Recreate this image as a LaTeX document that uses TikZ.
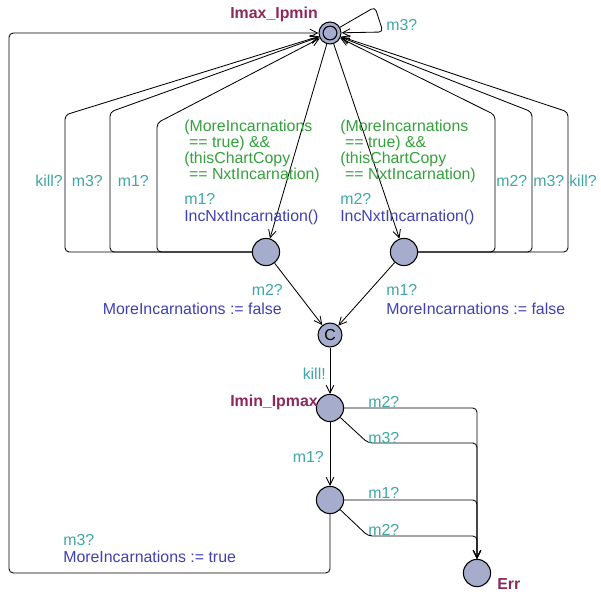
\documentclass[tikz,border=0pt]{standalone}
\usepackage{fontspec}
\setmainfont{Liberation Sans}
\usetikzlibrary{arrows.meta}

\definecolor{locfill}{RGB}{165,172,204}
\definecolor{synccol}{RGB}{64,166,166}
\definecolor{guardcol}{RGB}{52,160,60}
\definecolor{assigncol}{RGB}{64,64,176}
\definecolor{namecol}{RGB}{140,40,92}

\begin{document}
\begin{tikzpicture}[x=0.025cm, y=-0.025cm,
  font=\fontsize{11.3}{11.4}\selectfont,
  loc/.style={circle, draw, fill=locfill, minimum size=0.68cm, inner sep=0pt, line width=0.75pt},
  edge/.style={-{Straight Barb[length=5.5pt,width=5.5pt]}, rounded corners=3pt, line width=0.6pt},
  sync/.style={text=synccol, inner sep=0pt},
  guard/.style={text=guardcol, align=left, inner sep=0pt, anchor=north west},
  assign/.style={text=assigncol, inner sep=0pt},
  locname/.style={text=namecol, font=\fontsize{11.3}{11.4}\selectfont\bfseries, inner sep=0pt}]

\useasboundingbox (0,0) rectangle (601,592);

% Locations
\node[loc, minimum size=0.55cm] (maxmin) at (330,33) {};
\draw[line width=0.75pt] (maxmin.center) circle (4.9pt);
\node[loc] (lmid) at (266,252) {};
\node[loc] (rmid) at (404,252) {};
\node[loc, minimum size=0.6cm] (comm) at (330,335) {C};
\node[loc] (minmax) at (330,408) {};
\node[loc] (low) at (330,500) {};
\node[loc] (err) at (477,573) {};

% Location names
\node[locname, anchor=east] at (318,14) {Imax\_Ipmin};
\node[locname, anchor=east] at (318,402) {Imin\_Ipmax};
\node[locname, anchor=west] at (497,584) {Err};

% Self loop on the initial location
\draw[edge] (maxmin) -- (375,7) -- (383,32) -- (maxmin);
\node[sync, anchor=west] at (386,25) {m3?};

% Loops back from the two middle locations
\foreach \x/\y/\lx/\lab in {65/115/63/kill?, 110/112/103/m3?, 157/123/149/m1?} {
  \draw[edge] (lmid) -- (\x,252) -- (\x,\y) -- (maxmin);
  \node[sync, anchor=east] at (\lx,181) {\lab};
}
\foreach \x/\y/\lab in {495/115/m2?, 532/112/m3?, 568/112/kill?} {
  \draw[edge] (rmid) -- (\x,252) -- (\x,\y) -- (maxmin);
  \node[sync, anchor=west] at (\x+1,181) {\lab};
}

% Incarnation edges
\draw[edge] (maxmin) -- (lmid);
\draw[edge] (maxmin) -- (rmid);
\foreach \x/\m in {184/m1?, 340/m2?} {
  \node[guard] at (\x,120) {(MoreIncarnations\\\hspace*{.3em}== true) \&\&\\(thisChartCopy\\\hspace*{.3em}== NxtIncarnation)};
  \node[sync, anchor=west] at (\x,199) {\m};
  \node[assign, anchor=west] at (\x,217) {IncNxtIncarnation()};
}

% Into the committed location
\draw[edge] (lmid) -- (comm);
\draw[edge] (rmid) -- (comm);
\node[sync, anchor=east] at (283,290) {m2?};
\node[assign, anchor=east] at (282,309) {MoreIncarnations := false};
\node[sync, anchor=west] at (386,290) {m1?};
\node[assign, anchor=west] at (386,309) {MoreIncarnations := false};

\draw[edge] (comm) -- (minmax);
\node[sync, anchor=east] at (326,374) {kill!};
\draw[edge] (minmax) -- (low);
\node[sync, anchor=east] at (324,457) {m1?};

% Error edges
\draw[edge] (minmax) -- (477,408) -- (err);
\draw[edge] (minmax) -- (368,443) -- (477,443) -- (err);
\draw[edge] (low) -- (477,500) -- (err);
\draw[edge] (low) -- (368,536) -- (477,536) -- (err);
\node[sync, anchor=west] at (368,402) {m2?};
\node[sync, anchor=west] at (368,438) {m3?};
\node[sync, anchor=west] at (368,493) {m1?};
\node[sync, anchor=west] at (368,530) {m2?};

% Back to the initial location
\draw[edge] (low) -- (330,573) -- (9,573) -- (9,33) -- (maxmin);
\node[sync, anchor=west] at (63,540) {m3?};
\node[assign, anchor=west] at (63,557) {MoreIncarnations := true};

\end{tikzpicture}
\end{document}
